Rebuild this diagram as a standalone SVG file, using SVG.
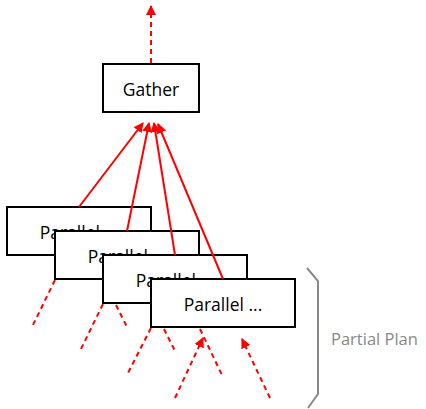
<svg xmlns="http://www.w3.org/2000/svg" width="426" height="409" viewBox="0 0 426 409">
<style>
.box{fill:#fff;stroke:#000;stroke-width:2}
.lbl{font-family:"Open Sans","Noto Sans",sans-serif;font-size:17.5px;fill:#000;text-anchor:middle}
.sol{stroke:#f00;stroke-width:2;fill:none}
.dash{stroke:#f00;stroke-width:2;fill:none;stroke-dasharray:5,4}
</style>
<defs>
<marker id="ah" viewBox="0 0 10 10" refX="9" refY="5" markerWidth="5" markerHeight="5" orient="auto" markerUnits="strokeWidth">
<path d="M0,0 L10,5 L0,10 z" fill="#f00"/>
</marker>
</defs>
<g id="gather">
<rect class="box" x="103" y="64" width="96" height="48"/>
<text class="lbl" x="151" y="96">Gather</text>
</g>
<g id="parallel1">
<rect class="box" x="7" y="207" width="144" height="48"/>
<text class="lbl" x="79" y="239">Parallel ...</text>
</g>
<g id="parallel2">
<rect class="box" x="55" y="231" width="144" height="48"/>
<text class="lbl" x="127" y="263">Parallel ...</text>
</g>
<g id="parallel3">
<rect class="box" x="103" y="255" width="144" height="48"/>
<text class="lbl" x="175" y="287">Parallel ...</text>
</g>
<g id="parallel4">
<rect class="box" x="151" y="279" width="144" height="48"/>
<text class="lbl" x="223" y="311">Parallel ...</text>
</g>
<g id="partial-plan">
<path d="M307,268 L318,281 L318,394 L308,408" fill="none" stroke="#888" stroke-width="2"/>
<text x="331" y="345" font-family="'Open Sans','Noto Sans',sans-serif" font-size="16.5" fill="#888">Partial Plan</text>
</g>
<g id="connectors">
<line class="dash" x1="151" y1="63" x2="151" y2="6" marker-end="url(#ah)"/>
<line class="sol" x1="79" y1="207" x2="143" y2="123" marker-end="url(#ah)"/>
<line class="sol" x1="127" y1="231" x2="149" y2="123" marker-end="url(#ah)"/>
<line class="sol" x1="175" y1="255" x2="154" y2="123" marker-end="url(#ah)"/>
<line class="sol" x1="223" y1="279" x2="158" y2="124" marker-end="url(#ah)"/>
<line class="dash" x1="55" y1="280" x2="32" y2="327"/>
<line class="dash" x1="103" y1="304" x2="80" y2="351"/>
<line class="dash" x1="116" y1="305" x2="127" y2="327"/>
<line class="dash" x1="151" y1="328" x2="127" y2="375"/>
<line class="dash" x1="164" y1="329" x2="175" y2="351"/>
<line class="dash" x1="200" y1="329" x2="222" y2="375"/>
<line class="dash" x1="175" y1="398" x2="203" y2="338" marker-end="url(#ah)"/>
<line class="dash" x1="270" y1="398" x2="242" y2="339" marker-end="url(#ah)"/>
</g>
</svg>
